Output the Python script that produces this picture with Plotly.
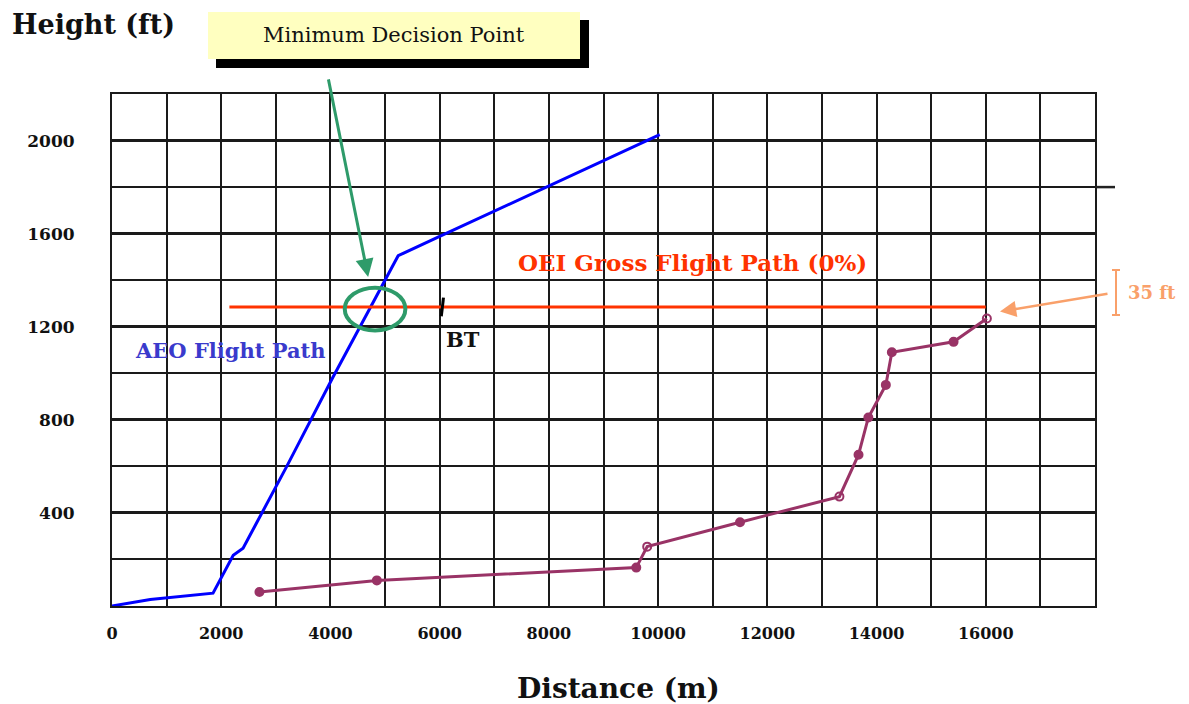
import plotly.graph_objects as go

# All-engines-operating flight path (distance m, height ft)
aeo_dist = [0, 700, 1850, 2220, 2400, 3200, 4050, 4940, 5240, 6000, 8000, 10030]
aeo_height = [0, 28, 55, 218, 248, 600, 985, 1372, 1505, 1588, 1805, 2025]

# One-engine-inoperative measured path
oei_dist = [2700, 4850, 9600, 9800, 11500, 13320, 13670, 13850, 14170, 14280, 15410, 16020]
oei_height = [60, 110, 165, 255, 360, 470, 650, 810, 950, 1090, 1135, 1235]
oei_open = [False, False, False, True, False, True, False, False, False, False, False, True]

# OEI gross flight path (0%) level segment
gross_dist = [2150, 16000]
gross_height = [1285, 1285]

x_ticks = [0, 2000, 4000, 6000, 8000, 10000, 12000, 14000, 16000]
x_minor = [1000, 3000, 5000, 7000, 9000, 11000, 13000, 15000, 17000]
y_ticks = [400, 800, 1200, 1600, 2000]
y_minor = [200, 600, 1000, 1400, 1800]

bt_dist = 6050
mdp_dist, mdp_height = 4817, 1276

BLUE = "#0000FF"
RED = "#FF3300"
PURPLE = "#993366"
GREEN = "#2E9B6A"
ORANGE = "#F9A06A"
SERIF = "DejaVu Serif"

fig = go.Figure()

fig.add_trace(go.Scatter(
    x=aeo_dist, y=aeo_height, mode="lines",
    line=dict(color=BLUE, width=3), showlegend=False, hoverinfo="skip"))

fig.add_trace(go.Scatter(
    x=gross_dist, y=gross_height, mode="lines",
    line=dict(color=RED, width=3), showlegend=False, hoverinfo="skip"))

fig.add_trace(go.Scatter(
    x=oei_dist, y=oei_height, mode="lines+markers",
    line=dict(color=PURPLE, width=3),
    marker=dict(color=PURPLE, size=8,
                symbol=["circle-open" if o else "circle" for o in oei_open],
                line=dict(color=PURPLE, width=2)),
    showlegend=False, hoverinfo="skip"))

W, H = 1189, 704
L, R, T, B = 112, 94, 94, 98
PW, PH = W - L - R, H - T - B


def px(xp):
    return (xp - L) / PW


def py(yp):
    return (H - B - yp) / PH


shapes = []
# Decision box shadow and box
shapes.append(dict(type="rect", xref="paper", yref="paper",
                   x0=px(216), x1=px(589), y0=py(68), y1=py(20),
                   fillcolor="black", line=dict(width=0), layer="above"))
shapes.append(dict(type="rect", xref="paper", yref="paper",
                   x0=px(208), x1=px(580), y0=py(59), y1=py(12),
                   fillcolor="#FFFFC0", line=dict(width=0), layer="above"))
# Circle round the minimum decision point
shapes.append(dict(type="circle", xref="x", yref="y",
                   x0=mdp_dist - 555, x1=mdp_dist + 555,
                   y0=mdp_height - 92, y1=mdp_height + 92,
                   line=dict(color=GREEN, width=4), layer="above"))
# BT tick
shapes.append(dict(type="line", xref="x", yref="y",
                   x0=bt_dist - 20, x1=bt_dist + 20, y0=1245, y1=1325,
                   line=dict(color="black", width=3), layer="above"))
# 35 ft bracket
bx = px(1116)
shapes.append(dict(type="line", xref="paper", yref="paper",
                   x0=bx, x1=bx, y0=py(315), y1=py(270),
                   line=dict(color=ORANGE, width=2)))
for yy in (270, 315):
    shapes.append(dict(type="line", xref="paper", yref="paper",
                       x0=px(1112), x1=px(1120), y0=py(yy), y1=py(yy),
                       line=dict(color=ORANGE, width=2)))
# Grid line running past the frame at 1800 ft
shapes.append(dict(type="line", xref="paper", yref="y",
                   x0=1, x1=px(1115), y0=1800, y1=1800,
                   line=dict(color="#222222", width=2.5)))

annotations = [
    dict(text="<b>Height (ft)</b>", xref="paper", yref="paper",
         x=px(10), y=py(24), xanchor="left", yanchor="middle", showarrow=False,
         font=dict(family=SERIF, size=27, color="#111111")),
    dict(text="Minimum Decision Point", xref="paper", yref="paper",
         x=px(394), y=py(35), xanchor="center", yanchor="middle", showarrow=False,
         font=dict(family=SERIF, size=21, color="#111111")),
    dict(text="<b>Distance (m)</b>", xref="paper", yref="paper",
         x=px(618), y=py(688), xanchor="center", yanchor="middle", showarrow=False,
         font=dict(family=SERIF, size=28, color="#111111")),
    dict(text="<b>AEO Flight Path</b>", xref="x", yref="y",
         x=385, y=1100, xanchor="left", yanchor="middle", showarrow=False,
         font=dict(family=SERIF, size=21, color="#3A3ACC")),
    dict(text="<b>OEI Gross Flight Path (0%)</b>", xref="x", yref="y",
         x=7400, y=1478, xanchor="left", yanchor="middle", showarrow=False,
         font=dict(family=SERIF, size=23, color=RED)),
    dict(text="<b>BT</b>", xref="x", yref="y",
         x=bt_dist + 30, y=1143, xanchor="left", yanchor="middle", showarrow=False,
         font=dict(family=SERIF, size=21, color="#111111")),
    dict(text="<b>35 ft</b>", xref="paper", yref="paper",
         x=px(1126), y=py(292), xanchor="left", yanchor="middle", showarrow=False,
         font=dict(family=SERIF, size=18, color=ORANGE)),
    # Arrow from the decision box down to the crossing point
    dict(text="", xref="x", yref="y", x=4690, y=1414,
         ax=-40, ay=-199, axref="pixel", ayref="pixel",
         showarrow=True, arrowhead=2, arrowsize=1.2, arrowwidth=3,
         arrowcolor=GREEN),
    # Arrow marking the 35 ft margin
    dict(text="", xref="x", yref="y", x=16260, y=1265,
         ax=109, ay=-18, showarrow=True, arrowhead=2, arrowsize=1.3,
         arrowwidth=2.5, arrowcolor=ORANGE),
]

grid_col = "#1a1a1a"
fig.update_layout(
    width=W, height=H,
    margin=dict(l=L, r=R, t=T, b=B, autoexpand=False),
    paper_bgcolor="white", plot_bgcolor="white",
    shapes=shapes, annotations=annotations,
    xaxis=dict(
        range=[0, 18000], tickmode="array", tickvals=x_ticks,
        ticktext=[f"<b>{v}</b>" for v in x_ticks],
        showgrid=True, gridcolor=grid_col, gridwidth=2,
        minor=dict(tickvals=x_minor, showgrid=True, gridcolor=grid_col, gridwidth=2),
        zeroline=False, showline=True, linecolor=grid_col, linewidth=2, mirror=True,
        ticks="", ticklabelstandoff=12,
        tickfont=dict(family=SERIF, size=16, color="#111111"),
        fixedrange=True),
    yaxis=dict(
        range=[0, 2200], tickmode="array", tickvals=y_ticks,
        ticktext=[f"<b>{v}</b>" for v in y_ticks],
        showgrid=True, gridcolor=grid_col, gridwidth=3,
        minor=dict(tickvals=y_minor, showgrid=True, gridcolor=grid_col, gridwidth=2),
        zeroline=False, showline=True, linecolor=grid_col, linewidth=2, mirror=True,
        ticks="", ticklabelstandoff=32,
        tickfont=dict(family=SERIF, size=17, color="#111111"),
        fixedrange=True),
)

fig.write_html("out.html")
